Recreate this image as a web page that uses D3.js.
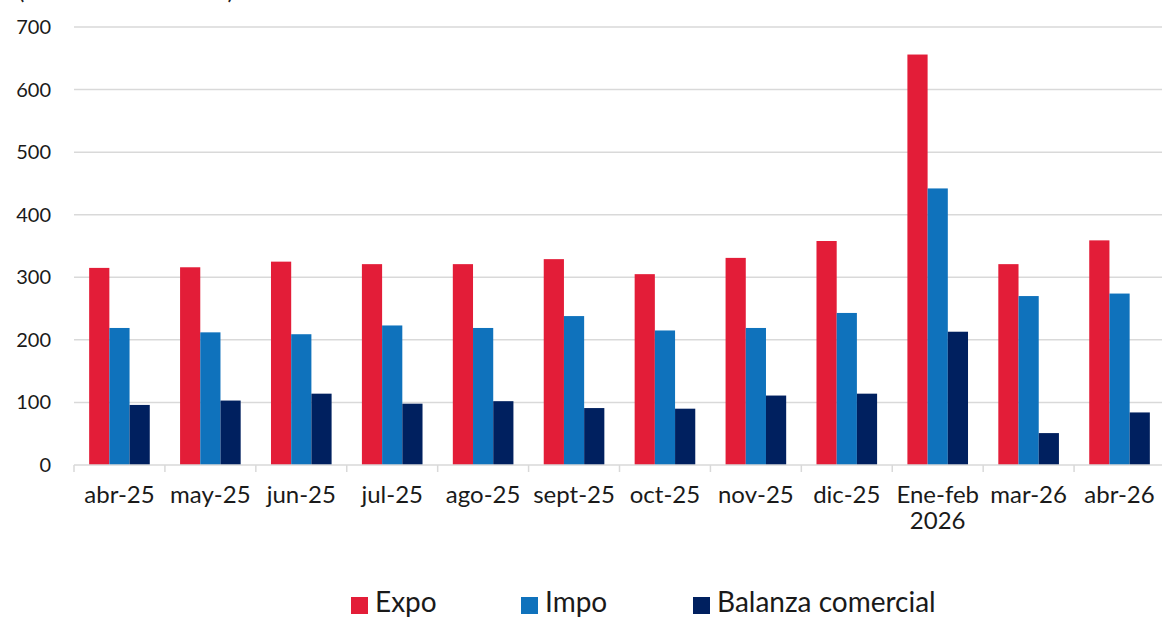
<!DOCTYPE html>
<html><head><meta charset="utf-8">
<script src="https://cdn.jsdelivr.net/npm/d3@7"></script>
<style>
html,body{margin:0;padding:0;background:#fff;overflow:hidden}
svg{display:block;font-family:"Lato","Open Sans",sans-serif}
</style></head>
<body><svg id="c" width="1162" height="617"></svg>
<script>
const categories = ["abr-25","may-25","jun-25","jul-25","ago-25","sept-25","oct-25","nov-25","dic-25","Ene-feb\n2026","mar-26","abr-26"];
const expo    = [315,316,325,321,321,329,305,331,358,656,321,359];
const impo    = [219,212,209,223,219,238,215,219,243,442,270,274];
const balanza = [96,103,114,98,102,91,90,111,114,213,51,84];
const seriesNames = ["Expo","Impo","Balanza comercial"];
const colors = ["#E31D38","#0F72BC","#00205F"];
const yTicks = [0,100,200,300,400,500,600,700];
const unitLabel = "(Millones de dólares)";

const svg = d3.select("#c");
const m = {left:74, right:1165, top:27, bottom:465};
const x = d3.scaleBand().domain(categories).range([m.left, m.right]).paddingInner(0).paddingOuter(0);
const y = d3.scaleLinear().domain([0,700]).range([m.bottom, m.top]);
const inner = d3.scaleBand().domain(seriesNames).range([0, x.bandwidth()]).paddingInner(0).paddingOuter(0.75);

// unit label (cut off at top, as in the reference)
svg.append("text").attr("x",18).attr("y",-1).attr("font-size",24).attr("fill","#1a1a1a").text(unitLabel);

// gridlines
svg.append("g").selectAll("line").data(yTicks.filter(d=>d>0)).join("line")
  .attr("x1",m.left).attr("x2",1162).attr("y1",d=>y(d)).attr("y2",d=>y(d))
  .attr("stroke","#d9d9d9").attr("stroke-width",1.5);

// y tick labels
svg.append("g").selectAll("text").data(yTicks).join("text")
  .attr("x",51).attr("y",d=>y(d)).attr("dy","0.35em").attr("text-anchor","end")
  .attr("font-size",20).attr("fill","#1a1a1a").text(d=>d);

// bars
const data = [expo, impo, balanza];
const g = svg.append("g");
categories.forEach((c,i)=>{
  seriesNames.forEach((s,j)=>{
    g.append("rect").attr("x",x(c)+inner(s)).attr("width",inner.bandwidth())
      .attr("y",y(data[j][i])).attr("height",y(0)-y(data[j][i]))
      .attr("fill",colors[j]);
  });
});

// x axis baseline and ticks
const ax = svg.append("g");
ax.append("line").attr("x1",m.left).attr("x2",1162).attr("y1",y(0)).attr("y2",y(0)).attr("stroke","#d9d9d9").attr("stroke-width",1.5);
ax.selectAll("line.t").data(categories).join("line").attr("class","t")
  .attr("x1",d=>x(d)).attr("x2",d=>x(d)).attr("y1",y(0)).attr("y2",y(0)+7)
  .attr("stroke","#d9d9d9").attr("stroke-width",1.5);
ax.selectAll("text").data(categories).join("text")
  .attr("x",d=>x(d)+x.bandwidth()/2).attr("y",503).attr("text-anchor","middle")
  .attr("font-size",24).attr("fill","#1a1a1a")
  .each(function(d){
    const lines=d.split("\n");
    d3.select(this).selectAll("tspan").data(lines).join("tspan")
      .attr("x",x(d)+x.bandwidth()/2).attr("dy",(l,k)=>k===0?0:"1.1em").text(l=>l);
  });

// legend
const legX = [351,521,693];
const lg = svg.append("g");
seriesNames.forEach((s,j)=>{
  lg.append("rect").attr("x",legX[j]).attr("y",597).attr("width",17).attr("height",17).attr("fill",colors[j]);
  lg.append("text").attr("x",legX[j]+24).attr("y",612).attr("font-size",28).attr("fill","#1a1a1a").text(s);
});
</script></body></html>
